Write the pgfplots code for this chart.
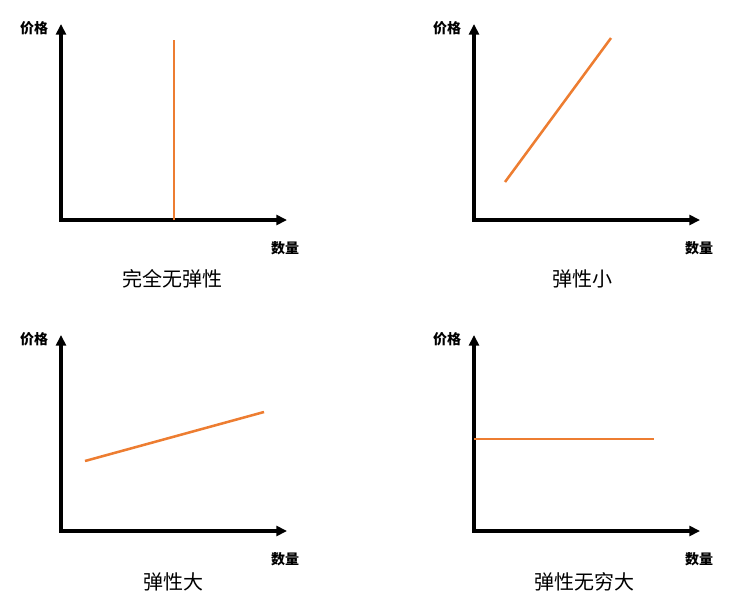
\documentclass[border=0pt]{standalone}
\usepackage{pgfplots}
\pgfplotsset{compat=1.18}
\usepackage{fontspec}
\setmainfont{Noto Sans CJK SC}
\usetikzlibrary{arrows.meta}
\definecolor{sorange}{HTML}{ED7D31}
\pgfplotsset{
  panel/.style={
    scale only axis, width=169.5pt, height=147pt,
    xmin=0, xmax=226, ymin=0, ymax=196,
    axis lines*=left, xtick=\empty, ytick=\empty,
    axis line style={line width=2.3pt, line cap=rect, -{Triangle[length=8pt,width=7.5pt]}},
    clip=false, anchor=south west,
  },
  curve/.style={sorange, line width=1.9pt, no marks},
}
\newcommand{\lab}{\bfseries\fontsize{10.5}{12}\selectfont}
\newcommand{\ttl}{\fontsize{15}{18}\selectfont}
\begin{document}
\begin{tikzpicture}[x=0.75pt,y=0.75pt]
\useasboundingbox (0,0) rectangle (742,608);
% panel 1
\begin{axis}[panel, at={(61,388)}]
\addplot[curve] coordinates {(113,0) (113,180)};
\node at (axis cs:-27,192) {\lab 价格};
\node at (axis cs:224,-28) {\lab 数量};
\node at (axis cs:111,-59) {\ttl 完全无弹性};
\end{axis}
% panel 2
\begin{axis}[panel, at={(474,388)}]
\addplot[curve] coordinates {(31,38) (137,182)};
\node at (axis cs:-27,192) {\lab 价格};
\node at (axis cs:225,-28) {\lab 数量};
\node at (axis cs:108,-59) {\ttl 弹性小};
\end{axis}
% panel 3
\begin{axis}[panel, at={(61,77)}]
\addplot[curve] coordinates {(24,70) (203,119)};
\node at (axis cs:-27,192) {\lab 价格};
\node at (axis cs:224,-28) {\lab 数量};
\node at (axis cs:112,-51) {\ttl 弹性大};
\end{axis}
% panel 4
\begin{axis}[panel, at={(474,77)}]
\addplot[curve] coordinates {(0,92) (180,92)};
\node at (axis cs:-27,192) {\lab 价格};
\node at (axis cs:225,-28) {\lab 数量};
\node at (axis cs:110,-51) {\ttl 弹性无穷大};
\end{axis}
\end{tikzpicture}
\end{document}
